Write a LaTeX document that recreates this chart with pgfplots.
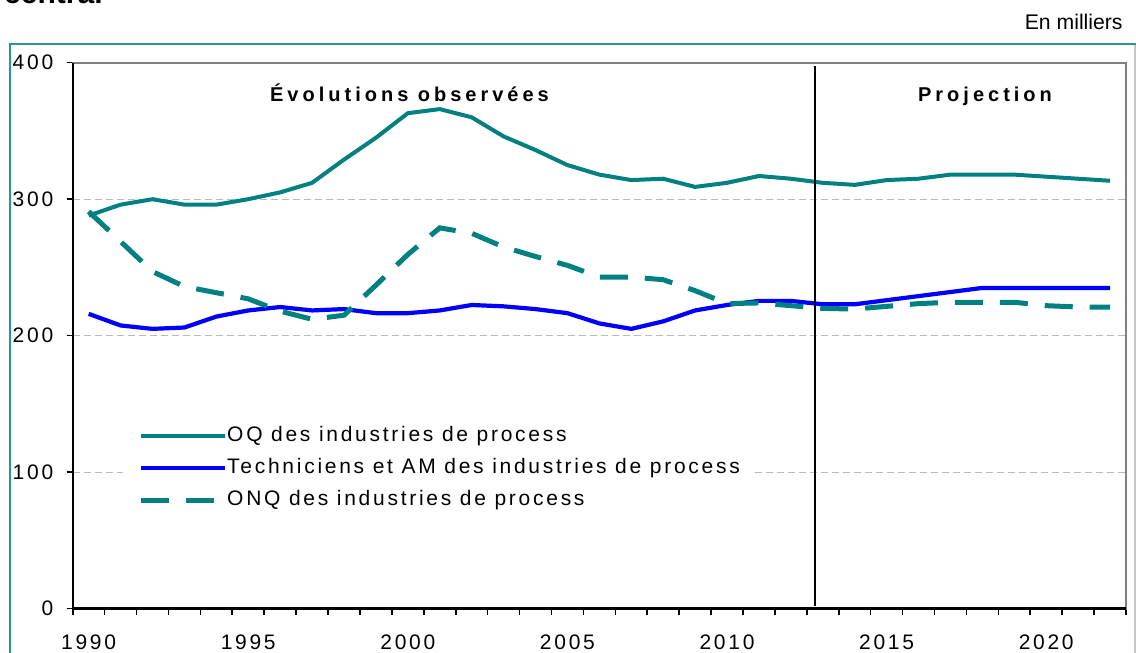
\documentclass[border=0pt]{standalone}
\usepackage{fontspec}
\setmainfont{Liberation Sans}[LetterSpace=13]
\newfontfamily\titlefont{Liberation Sans}[LetterSpace=20]
\newfontfamily\plainfont{Liberation Sans}
\usepackage{pgfplots}
\pgfplotsset{compat=1.18}
\definecolor{teal1}{RGB}{0,128,128}
\definecolor{blue1}{RGB}{0,0,255}
\definecolor{frameteal}{RGB}{40,150,150}
\pgfplotstableread{
year OQ TECH ONQ
1990 288 216 291
1991 296 207.5 269
1992 300 205 247
1993 296 206 236
1994 296 214 231.5
1995 300 218.5 227
1996 305 221 218
1997 312 218.5 212
1998 329 219.5 215
1999 345 216.5 237
2000 363 216.5 259.5
2001 366 218.5 279
2002 360 222.5 275
2003 346 221.5 265
2004 336 219.5 258
2005 325 216.5 251.5
2006 318 209 243
2007 314 205 243
2008 315 210.5 241
2009 309 218.5 233
2010 312 222.5 223.5
2011 317 225.5 224
2012 315 225.5 222
2013 312 223 220
2014 310.5 223 219.5
2015 314 226 221.5
2016 315 229 223.5
2017 318 232 224.5
2018 318 235 224.5
2019 318 235 224.5
2020 316.5 235 222
2021 315 235 221
2022 313.5 235 221
}\datatable
\begin{document}
\begin{tikzpicture}
\useasboundingbox (0,0) rectangle (568pt,326.5pt);
% outer frame
\draw[frameteal, line width=1pt] (4.75pt,-5pt) -- (4.75pt,304.25pt) -- (575pt,304.25pt);
\draw[gray!45, line width=0.8pt] (567.6pt,303.8pt) -- (567.6pt,-5pt);
\node[anchor=base east, inner sep=0pt, font=\plainfont\bfseries\fontsize{15}{18}\selectfont] at (51.5pt,324.5pt) {central};
\node[anchor=base east, inner sep=0pt, font=\plainfont\fontsize{10.6}{12}\selectfont] at (561.5pt,311.5pt) {En milliers};
\begin{axis}[
  at={(36.35pt,22.15pt)}, anchor=south west,
  scale only axis, width=526.65pt, height=273pt,
  xmin=1989.5, xmax=2022.5, ymin=0, ymax=400,
  clip=false,
  axis line style={draw=gray, line width=1pt},
  tick align=outside, xtick pos=bottom, ytick pos=left,
  xtick={1990,1995,2000,2005,2010,2015,2020},
  xticklabels={1990,1995,2000,2005,2010,2015,2020},
  minor xtick={1989.5,1990.5,...,2022.5},
  major x tick style={draw=none},
  minor x tick style={black, line width=0.8pt},
  minor tick length=3pt,
  ytick={0,100,200,300,400},
  y tick style={black, line width=0.8pt},
  major tick length=3pt,
  ymajorgrids,
  grid style={gray!55, line width=0.5pt, dash pattern=on 3.5pt off 2pt},
  /pgf/number format/assume math mode=true,
  tick label style={font=\fontsize{10.5}{12}\selectfont},
  xticklabel style={yshift=-6.3pt},
  yticklabel style={xshift=-3.2pt},
  legend image code/.code={\draw[#1] (0pt,0pt) -- (41.75pt,0pt);},
  legend cell align=left,
  legend style={at={(axis cs:1991.07,136.6)}, anchor=north west, draw=none, fill=white,
    font=\fontsize{10.5}{12}\selectfont, inner xsep=7.75pt, inner ysep=2pt,
    row sep=6.4pt, nodes={inner sep=0pt, text height=7.6pt, text depth=2pt},
    /tikz/every odd column/.style={column sep=0pt}},
]
\addplot[teal1, line width=2pt, line join=round] table[x=year, y=OQ] {\datatable};
\addlegendentry{OQ des industries de process}
\addplot[blue1, line width=2.1pt, line join=round] table[x=year, y=TECH] {\datatable};
\addlegendentry{Techniciens et AM des industries de process}
\addplot[teal1, line width=2.5pt, dash pattern=on 14pt off 8.5pt] table[x=year, y=ONQ] {\datatable};
\addlegendentry{ONQ des industries de process}
\addplot[black, line width=1pt, forget plot] coordinates {(2012.76,2) (2012.76,397.5)};
\draw[black, line width=1.2pt] (rel axis cs:0,1) -- (rel axis cs:0,0) -- (rel axis cs:1,0);
\end{axis}
\node[anchor=base, inner sep=0pt, font=\titlefont\bfseries\fontsize{10}{12}\selectfont] at (204.75pt,275.65pt) {Évolutions observées};
\node[anchor=base, inner sep=0pt, font=\titlefont\bfseries\fontsize{10}{12}\selectfont] at (492.5pt,275.65pt) {Projection};
\end{tikzpicture}
\end{document}
